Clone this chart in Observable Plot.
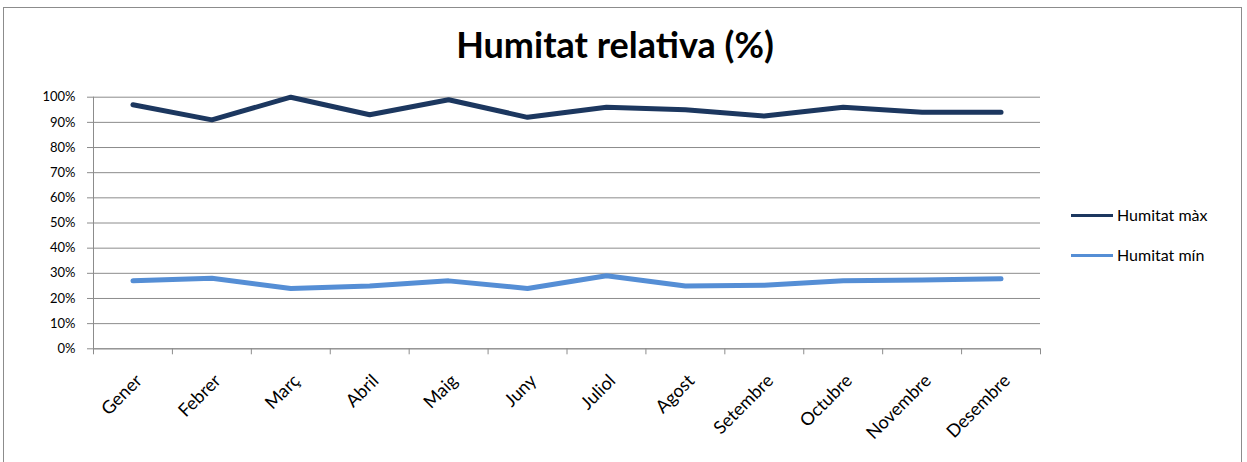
<!DOCTYPE html>
<html>
<head>
<meta charset="utf-8">
<script src="https://cdn.jsdelivr.net/npm/d3@7"></script>
<script src="https://cdn.jsdelivr.net/npm/@observablehq/plot@0.6"></script>
<style>
  html, body { margin: 0; padding: 0; background: #fff; }
  #wrap { position: relative; width: 1247px; height: 462px; overflow: hidden; font-family: Lato, "Open Sans", sans-serif; }
  #frame { position: absolute; left: 3px; top: 7px; width: 1239px; height: 470px; border: 1px solid #8c8c8c; box-sizing: border-box; }
  #title { position: absolute; left: 0; width: 1230px; top: 22px; text-align: center; font-weight: bold; font-size: 36px; line-height: 44px; color: #000; }
  #chart { position: absolute; left: 0; top: 0; }
  .leg { position: absolute; left: 1071px; font-size: 16px; line-height: 20px; color: #000; display: flex; align-items: center; }
  .leg span.sw { display: inline-block; width: 42px; height: 3px; margin-right: 4px; }
</style>
</head>
<body>
<div id="wrap">
  <div id="frame"></div>
  <div id="title">Humitat relativa (%)</div>
  <div id="chart"></div>
  <div id="legend"></div>
</div>
<script>
const months = ["Gener","Febrer","Març","Abril","Maig","Juny","Juliol","Agost","Setembre","Octubre","Novembre","Desembre"];
const seriesNames = ["Humitat màx", "Humitat mín"];
const humitatMax = [97, 91, 100, 93, 99, 92, 96, 95, 92.5, 96, 94, 94];
const humitatMin = [27, 28, 24, 25, 27, 24, 29, 25, 25.3, 27, 27.3, 27.8];
const yTicks = [0, 10, 20, 30, 40, 50, 60, 70, 80, 90, 100];
const colors = ["#1c375f", "#558ed5"];

const data = [];
months.forEach((m, i) => {
  data.push({month: m, value: humitatMax[i], series: seriesNames[0]});
  data.push({month: m, value: humitatMin[i], series: seriesNames[1]});
});

const W = 1247, H = 462;
const mL = 93, mR = 207, mT = 96.7, mB = 113.7;
const step = (W - mL - mR) / months.length;

const chart = Plot.plot({
  width: W,
  height: H,
  marginLeft: mL,
  marginRight: mR,
  marginTop: mT,
  marginBottom: mB,
  style: {fontFamily: "Lato, 'Open Sans', sans-serif", fontSize: "13px", color: "#000", background: "transparent"},
  x: {type: "point", domain: months, padding: 0.5, round: false, label: null},
  y: {domain: [0, 100], label: null},
  color: {domain: seriesNames, range: colors},
  marks: [
    Plot.gridY(yTicks, {stroke: "#8c8c8c", strokeOpacity: 1, strokeWidth: 1}),
    Plot.axisY(yTicks, {label: null, tickFormat: d => d + "%", tickSize: 6, tickPadding: 12, stroke: "#8c8c8c", fill: "#000", fontSize: 13}),
    Plot.frame({anchor: "left", stroke: "#8c8c8c"}),
    Plot.ruleY([0], {stroke: "#8c8c8c"}),
    Plot.ruleX(months, {x: d => d, dx: -step / 2, y1: 0, y2: 0, insetBottom: -6, stroke: "#8c8c8c"}),
    Plot.ruleX(months.slice(-1), {x: d => d, dx: step / 2, y1: 0, y2: 0, insetBottom: -6, stroke: "#8c8c8c"}),
    Plot.axisX(months, {label: null, tickSize: 0, tickRotate: -45, tickPadding: 29, dx: 6, fill: "#000", fontSize: 18}),
    Plot.line(data, {x: "month", y: "value", stroke: "series", z: "series", strokeWidth: 5, strokeLinecap: "round", strokeLinejoin: "round"})
  ]
});
document.getElementById("chart").appendChild(chart);

const legend = document.getElementById("legend");
seriesNames.forEach((s, i) => {
  const d = document.createElement("div");
  d.className = "leg";
  d.style.top = (205 + i * 40) + "px";
  d.innerHTML = `<span class="sw" style="background:${colors[i]}"></span><span>${s}</span>`;
  legend.appendChild(d);
});
</script>
</body>
</html>
